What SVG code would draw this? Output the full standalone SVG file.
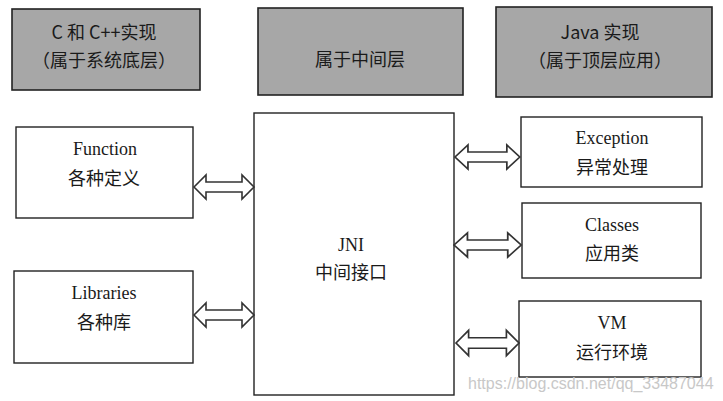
<svg xmlns="http://www.w3.org/2000/svg" width="723" height="401" viewBox="0 0 723 401">
<defs>
<style>
.top{fill:#a7a7a7;stroke:#222;stroke-width:1.6}
.box{fill:#fff;stroke:#222;stroke-width:1.4}
.cn{font-family:"Noto Sans CJK SC","Noto Sans",sans-serif;font-size:18px;fill:#1a1a1a;text-anchor:middle}
.en{font-family:"Liberation Serif",serif;font-size:18px;fill:#1a1a1a;text-anchor:middle}
.arr{fill:#fff;stroke:#333;stroke-width:1.6;stroke-linejoin:miter}
.wm{font-family:"Liberation Sans",Arial,sans-serif;font-size:16px;fill:#c8c8c8}
</style>
<polygon id="dbl" points="0,0 12,-12 12,-5 48,-5 48,-12 60,0 48,12 48,5 12,5 12,12"/>
</defs>
<g id="top-c">
<rect class="top" x="12" y="9" width="188" height="81"/>
<text class="cn" x="104" y="39">C 和 C++实现</text>
<text class="cn" x="104" y="67">（属于系统底层）</text>
</g>
<g id="top-mid">
<rect class="top" x="258" y="8" width="205" height="87"/>
<text class="cn" x="360" y="66">属于中间层</text>
</g>
<g id="top-java">
<rect class="top" x="496" y="7" width="216" height="90"/>
<text class="cn" x="600" y="39">Java 实现</text>
<text class="cn" x="600" y="67">（属于顶层应用）</text>
</g>
<g id="function">
<rect class="box" x="16" y="127" width="177" height="91"/>
<text class="en" x="105" y="155">Function</text>
<text class="cn" x="104" y="185">各种定义</text>
</g>
<g id="libraries">
<rect class="box" x="14" y="271" width="179" height="92"/>
<text class="en" x="104" y="299">Libraries</text>
<text class="cn" x="104" y="329">各种库</text>
</g>
<g id="jni">
<rect class="box" x="254" y="113" width="200" height="282"/>
<text class="en" x="351" y="251">JNI</text>
<text class="cn" x="351" y="279">中间接口</text>
</g>
<g id="exception">
<rect class="box" x="521" y="117" width="181" height="70"/>
<text class="en" x="612" y="144">Exception</text>
<text class="cn" x="612" y="174">异常处理</text>
</g>
<g id="classes">
<rect class="box" x="522" y="203" width="179" height="75"/>
<text class="en" x="612" y="231">Classes</text>
<text class="cn" x="612" y="260">应用类</text>
</g>
<g id="vm">
<rect class="box" x="519" y="301" width="182" height="76"/>
<text class="en" x="612" y="329">VM</text>
<text class="cn" x="612" y="359">运行环境</text>
</g>
<g id="connectors">
<use href="#dbl" class="arr" transform="translate(194,187)"/>
<use href="#dbl" class="arr" transform="translate(194,315)"/>
<use href="#dbl" class="arr" transform="translate(455,157) scale(1.08,1)"/>
<use href="#dbl" class="arr" transform="translate(454,245) scale(1.12,1)"/>
<use href="#dbl" class="arr" transform="translate(456,343) scale(1.05,1.05)"/>
</g>
<text class="wm" x="468" y="389">https://blog.csdn.net/qq_33487044</text>
</svg>
